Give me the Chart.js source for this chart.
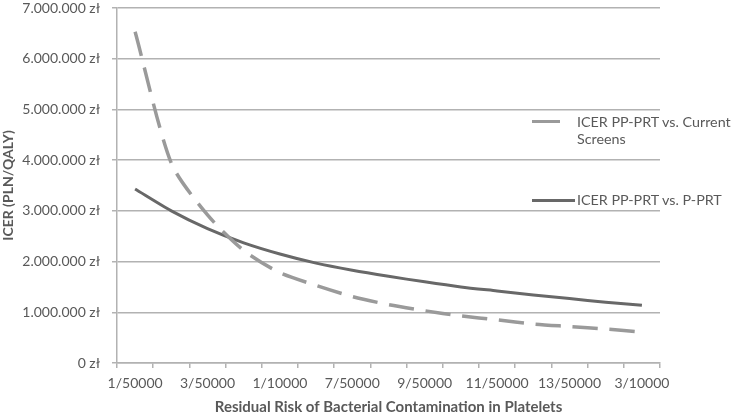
<!DOCTYPE html>
<html>
<head>
<meta charset="utf-8">
<script src="https://cdn.jsdelivr.net/npm/chart.js@4/dist/chart.umd.min.js"></script>
<style>
    body { margin: 0; background: #fff; }
    #wrap { position: relative; width: 733px; height: 415px; }
    .legend-text { position: absolute; font-family: Lato, "Open Sans", sans-serif; font-size: 14.3px; color: #595959; line-height: 17px; white-space: nowrap; }
    .legend-line { position: absolute; height: 3px; }
</style>
</head>
<body>
<div id="wrap">
    <canvas id="chart" width="733" height="415"></canvas>
    <div class="legend-line" style="left:532px; top:120px; width:28px; background:#9a9a9a;"></div>
    <div class="legend-text" style="left:577px; top:113px;">ICER PP-PRT vs. Current<br>Screens</div>
    <div class="legend-line" style="left:532px; top:199px; width:43px; background:#686868;"></div>
    <div class="legend-text" style="left:577px; top:191px;">ICER PP-PRT vs. P-PRT</div>
</div>
<script>
// residual risk categories (every other one is labelled on the axis)
const riskLabels = ['1/50000', '1/25000', '3/50000', '2/25000', '1/10000', '3/25000', '7/50000', '4/25000',
    '9/50000', '1/5000', '11/50000', '6/25000', '13/50000', '7/25000', '3/10000'];

// ICER values in PLN/QALY
const icerVsCurrentScreens = [6530000, 3940000, 2920000, 2220000, 1780000, 1530000, 1310000, 1150000,
    1030000, 930000, 850000, 770000, 720000, 670000, 610000];
const icerVsPPRT = [3430000, 3000000, 2650000, 2370000, 2150000, 1970000, 1830000, 1710000,
    1600000, 1500000, 1420000, 1340000, 1270000, 1200000, 1140000];

const yMax = 7000000;
const yStep = 1000000;

const textColor = '#595959';
const gridColor = '#b2b2b2';
const fontFamily = 'Lato, "Open Sans", sans-serif';

function formatZl(v) {
    return String(v).replace(/\B(?=(\d{3})+(?!\d))/g, '.') + ' zł';
}

const ctx = document.getElementById('chart').getContext('2d');
const chart = new Chart(ctx, {
    type: 'line',
    data: {
        labels: riskLabels,
        datasets: [
            {
                label: 'ICER PP-PRT vs. Current Screens',
                data: icerVsCurrentScreens,
                borderColor: '#9a9a9a',
                borderWidth: 3.5,
                borderDash: [25, 12],
                pointRadius: 0,
                tension: 0.25,
                fill: false
            },
            {
                label: 'ICER PP-PRT vs. P-PRT',
                data: icerVsPPRT,
                borderColor: '#686868',
                borderWidth: 3,
                pointRadius: 0,
                tension: 0.25,
                fill: false
            }
        ]
    },
    options: {
        responsive: false,
        animation: false,
        layout: { padding: { left: 0, right: 73, top: 8, bottom: 0 } },
        plugins: {
            legend: { display: false },
            tooltip: { enabled: false }
        },
        scales: {
            x: {
                offset: true,
                grid: { offset: true, drawOnChartArea: false, drawTicks: true, tickLength: 5, color: gridColor, lineWidth: 1.5 },
                border: { color: gridColor, width: 1.5 },
                ticks: {
                    autoSkip: false,
                    maxRotation: 0,
                    minRotation: 0,
                    padding: 7,
                    color: textColor,
                    font: { family: fontFamily, size: 14 },
                    callback: function (value, index) {
                        return index % 2 === 0 ? riskLabels[index] : '';
                    }
                },
                title: {
                    display: true,
                    text: 'Residual Risk of Bacterial Contamination in Platelets',
                    color: textColor,
                    font: { family: fontFamily, size: 15, weight: 'bold', lineHeight: 1 },
                    padding: { top: 0, bottom: 0 }
                },
                afterFit: function (scale) {
                    scale.height = 52;
                    scale.paddingLeft = 0;
                    scale.paddingRight = 0;
                }
            },
            y: {
                min: 0,
                max: yMax,
                grid: { color: gridColor, lineWidth: 1.5, drawTicks: true, tickLength: 5 },
                border: { color: gridColor, width: 1.5 },
                ticks: {
                    stepSize: yStep,
                    padding: 12,
                    color: textColor,
                    font: { family: fontFamily, size: 14 },
                    callback: function (v) { return formatZl(v); }
                },
                title: {
                    display: true,
                    text: 'ICER (PLN/QALY)',
                    color: textColor,
                    font: { family: fontFamily, size: 14, weight: 'bold', lineHeight: 1 },
                    padding: { top: 1, bottom: 0 }
                },
                afterFit: function (scale) {
                    scale.width = 117;
                    scale.paddingTop = 0;
                    scale.paddingBottom = 0;
                }
            }
        }
    }
});
</script>
</body>
</html>
